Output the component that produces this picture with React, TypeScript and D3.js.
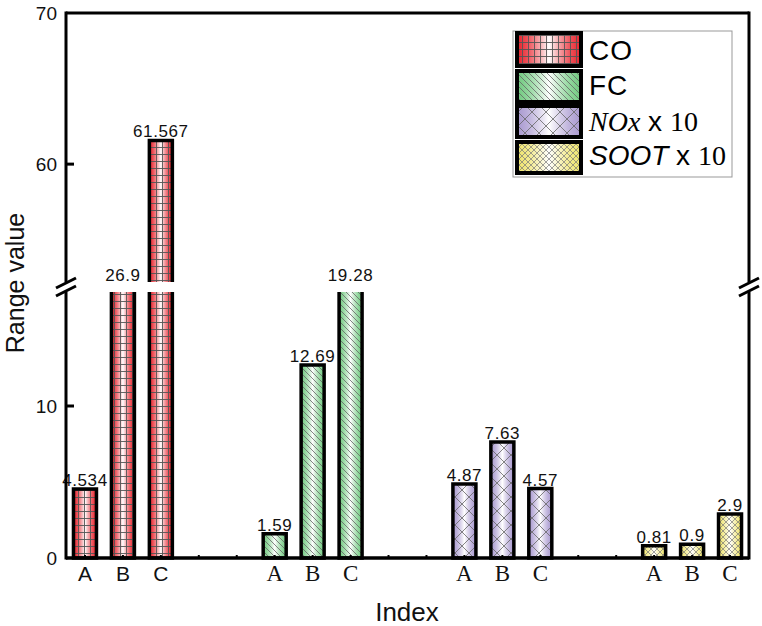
import React from "react";
import * as d3 from "d3";

const groups = ["CO", "FC", "NOx", "SOOT"];
const cases = ["A", "B", "C"];
const coValues = [4.534, 26.9, 61.567];
const fcValues = [1.59, 12.69, 19.28];
const noxValues = [4.87, 7.63, 4.57];
const sootValues = [0.81, 0.9, 2.9];
const valueLabels = [
  ["4.534", "26.9", "61.567"],
  ["1.59", "12.69", "19.28"],
  ["4.87", "7.63", "4.57"],
  ["0.81", "0.9", "2.9"],
];
const lowTicks = [0, 10];
const highTicks = [60, 70];

const W = 762;
const H = 626;
const L = 66;
const R = 749;
const TOP = 13;
const BOT = 558;
const LOW_TOP = 292;
const HIGH_BOT = 282;
const LOW_MAX = 17.5;
const HIGH_MIN = 52.2;
const HIGH_MAX = 70;

const SANS = "'Liberation Sans', Arial, sans-serif";
const SERIF = "'Liberation Serif', 'Times New Roman', serif";

const colors = ["#e8202a", "#6fc97e", "#a898cf", "#efe46a"];
const patIds = ["patCO", "patFC", "patNOX", "patSOOT"];
const gradIds = ["gCO", "gFC", "gNOX", "gSOOT"];

export default function App() {
  const allValues = [coValues, fcValues, noxValues, sootValues];
  const nSlots = 18;
  const slots = d3.range(nSlots);
  const x = d3.scalePoint<number>().domain(slots).range([L, R]).padding(0.5);
  const yLow = d3.scaleLinear().domain([0, LOW_MAX]).range([BOT, LOW_TOP]);
  const yHigh = d3.scaleLinear().domain([HIGH_MIN, HIGH_MAX]).range([HIGH_BOT, TOP]);
  const bw = 23;

  const bars: React.ReactNode[] = [];
  const labels: React.ReactNode[] = [];
  allValues.forEach((vals, g) => {
    vals.forEach((v, i) => {
      const slot = g * 5 + i;
      const cx = x(slot)!;
      const x0 = cx - bw / 2;
      const x1 = cx + bw / 2;
      const pieces: { y0: number; y1: number; top: boolean; bottom: boolean }[] = [];
      let labelY: number;
      if (v <= LOW_MAX) {
        pieces.push({ y0: yLow(v), y1: BOT, top: true, bottom: true });
        labelY = yLow(v) - 3;
      } else if (v < HIGH_MIN) {
        pieces.push({ y0: LOW_TOP, y1: BOT, top: false, bottom: true });
        labelY = HIGH_BOT - 1;
      } else {
        pieces.push({ y0: LOW_TOP, y1: BOT, top: false, bottom: true });
        pieces.push({ y0: yHigh(v), y1: HIGH_BOT, top: true, bottom: false });
        labelY = yHigh(v) - 3;
      }
      pieces.forEach((p, k) => {
        const path = d3.path();
        if (p.top && p.bottom) {
          path.rect(x0, p.y0, bw, p.y1 - p.y0);
        } else if (p.top) {
          path.moveTo(x0, p.y1);
          path.lineTo(x0, p.y0);
          path.lineTo(x1, p.y0);
          path.lineTo(x1, p.y1);
        } else {
          path.moveTo(x0, p.y0);
          path.lineTo(x0, p.y1);
          path.lineTo(x1, p.y1);
          path.lineTo(x1, p.y0);
        }
        bars.push(
          <g key={`b${g}-${i}-${k}`}>
            <rect x={x0} y={p.y0} width={bw} height={p.y1 - p.y0} fill={`url(#${gradIds[g]})`} />
            <rect x={x0} y={p.y0} width={bw} height={p.y1 - p.y0} fill={`url(#${patIds[g]})`} />
            <path d={path.toString()} fill="none" stroke="#000" strokeWidth={3.5} strokeLinejoin="miter" />
          </g>
        );
      });
      labels.push(
        <text
          key={`l${g}-${i}`}
          x={cx}
          y={labelY}
          textAnchor="middle"
          fontFamily={SANS}
          fontSize={17}
          letterSpacing={0.6}
          fill="#111"
        >
          {valueLabels[g][i]}
        </text>
      );
    });
  });

  const catLabels: React.ReactNode[] = [];
  groups.forEach((_, g) => {
    cases.forEach((c, i) => {
      const cx = x(g * 5 + i)!;
      catLabels.push(
        <text
          key={`c${g}-${i}`}
          x={cx}
          y={581}
          textAnchor="middle"
          fontFamily={g === 0 ? SANS : SERIF}
          fontSize={g === 0 ? 21 : 23}
          fill="#111"
        >
          {c}
        </text>
      );
    });
  });

  const breakMarks = (ax: number, key: string) => (
    <g key={key}>
      <rect x={ax - 2} y={HIGH_BOT} width={4} height={LOW_TOP - HIGH_BOT} fill="#fff" />
      <line x1={ax - 10} y1={HIGH_BOT + 6} x2={ax + 10} y2={HIGH_BOT - 4} stroke="#000" strokeWidth={3} />
      <line x1={ax - 10} y1={LOW_TOP + 4} x2={ax + 10} y2={LOW_TOP - 6} stroke="#000" strokeWidth={3} />
    </g>
  );

  const legendRows = [
    { y: 33, h: 33, base: 60 },
    { y: 71, h: 31, base: 95 },
    { y: 106, h: 31, base: 131 },
    { y: 142, h: 31, base: 165 },
  ];

  const gradient = (id: string, col: string) => (
    <linearGradient id={id} x1="0" y1="0" x2="1" y2="0" key={id}>
      <stop offset="0" stopColor={col} />
      <stop offset="0.15" stopColor={col} stopOpacity={0.8} />
      <stop offset="0.5" stopColor="#fff" />
      <stop offset="0.85" stopColor={col} stopOpacity={0.8} />
      <stop offset="1" stopColor={col} />
    </linearGradient>
  );

  return (
    <svg width={W} height={H} style={{ position: "absolute", left: 0, top: 0, background: "#fff" }}>
      <defs>
        {gradIds.map((id, i) => gradient(id, colors[i]))}
        <pattern id="patCO" patternUnits="userSpaceOnUse" width={6} height={7}>
          <path d="M0,0.5 H6 M0.5,0 V7" stroke="#555" strokeWidth={0.9} fill="none" />
        </pattern>
        <pattern id="patFC" patternUnits="userSpaceOnUse" width={6} height={6}>
          <path d="M-1,-1 L7,7 M-1,5 L1,7 M5,-1 L7,1" stroke="#666" strokeWidth={0.8} fill="none" />
        </pattern>
        <pattern id="patNOX" patternUnits="userSpaceOnUse" width={14} height={14}>
          <path d="M0,0 L14,14 M14,0 L0,14" stroke="#666" strokeWidth={0.8} fill="none" />
        </pattern>
        <pattern id="patSOOT" patternUnits="userSpaceOnUse" width={6} height={6}>
          <path d="M0,0 L6,6 M6,0 L0,6" stroke="#777" strokeWidth={0.7} fill="none" />
        </pattern>
      </defs>

      {bars}
      {labels}

      {slots.map((s) => (
        <line key={`t${s}`} x1={x(s)!} x2={x(s)!} y1={BOT} y2={BOT - 3} stroke="#000" strokeWidth={2} />
      ))}

      <line x1={L} x2={R} y1={TOP} y2={TOP} stroke="#000" strokeWidth={3} />
      <line x1={L} x2={R} y1={BOT} y2={BOT} stroke="#000" strokeWidth={3.5} />
      <line x1={L} x2={L} y1={TOP - 1.5} y2={BOT + 1.5} stroke="#000" strokeWidth={3} />
      <line x1={R} x2={R} y1={TOP - 1.5} y2={BOT + 1.5} stroke="#000" strokeWidth={3} />
      {breakMarks(L, "bl")}
      {breakMarks(R, "br")}

      {lowTicks.map((t) => (
        <g key={`yl${t}`}>
          {t !== 0 && <line x1={L} x2={L + 8} y1={yLow(t)} y2={yLow(t)} stroke="#000" strokeWidth={3} />}
          <text x={57} y={yLow(t) + 7} textAnchor="end" fontFamily={SANS} fontSize={19} fill="#111">
            {t}
          </text>
        </g>
      ))}
      {highTicks.map((t) => (
        <g key={`yh${t}`}>
          {t !== HIGH_MAX && <line x1={L} x2={L + 8} y1={yHigh(t)} y2={yHigh(t)} stroke="#000" strokeWidth={3} />}
          <text x={57} y={yHigh(t) + 7} textAnchor="end" fontFamily={SANS} fontSize={19} fill="#111">
            {t}
          </text>
        </g>
      ))}

      {catLabels}

      <text x={407} y={621} textAnchor="middle" fontFamily={SANS} fontSize={26} fill="#111">
        Index
      </text>
      <text
        transform={`translate(24,${283}) rotate(-90)`}
        textAnchor="middle"
        fontFamily={SANS}
        fontSize={25}
        fill="#111"
      >
        Range value
      </text>

      <rect x={513} y={31} width={219} height={146} fill="#fff" stroke="#999" strokeWidth={1} />
      {legendRows.map((r, i) => (
        <g key={`lg${i}`}>
          <rect x={517} y={r.y} width={64} height={r.h} fill={`url(#${gradIds[i]})`} />
          <rect x={517} y={r.y} width={64} height={r.h} fill={`url(#${patIds[i]})`} />
          <rect x={517} y={r.y} width={64} height={r.h} fill="none" stroke="#000" strokeWidth={4} />
        </g>
      ))}
      <text x={589} y={legendRows[0].base} fontFamily={SANS} fontSize={28} fill="#000" letterSpacing={1}>
        CO
      </text>
      <text x={589} y={legendRows[1].base} fontFamily={SANS} fontSize={28} fill="#000" letterSpacing={1}>
        FC
      </text>
      <text x={589} y={legendRows[2].base} fontSize={28} fill="#000">
        <tspan fontFamily={SERIF} fontStyle="italic">NOx</tspan>
        <tspan fontFamily={SANS}> x </tspan>
        <tspan fontFamily={SERIF}>10</tspan>
      </text>
      <text x={589} y={legendRows[3].base} fontSize={28} fill="#000">
        <tspan fontFamily={SANS} fontStyle="italic">SOOT</tspan>
        <tspan fontFamily={SANS}> x </tspan>
        <tspan fontFamily={SERIF}>10</tspan>
      </text>
    </svg>
  );
}
